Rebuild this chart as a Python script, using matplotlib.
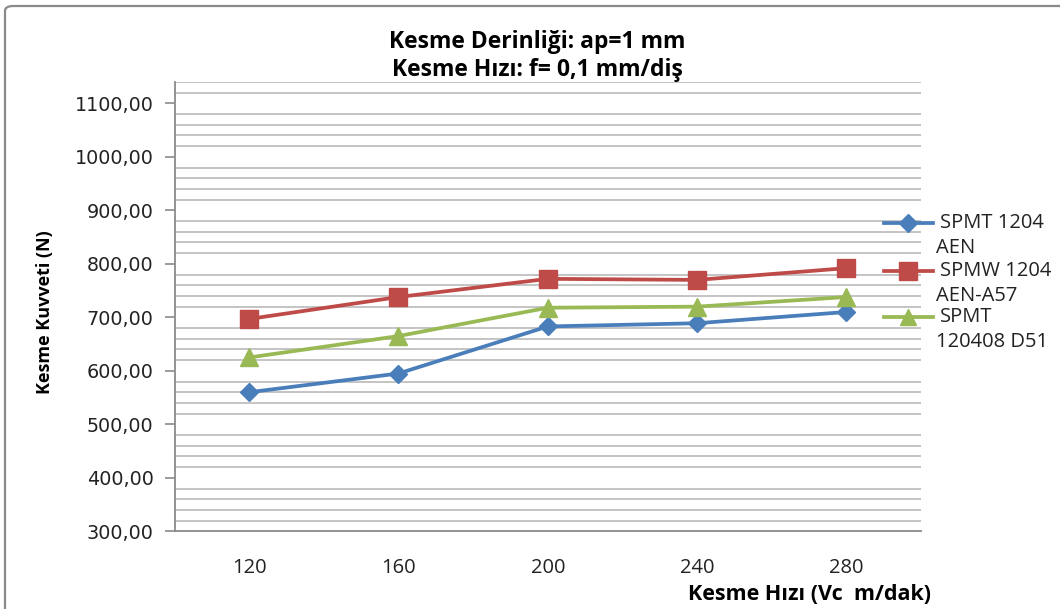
import matplotlib
matplotlib.use("Agg")
import matplotlib.pyplot as plt
from matplotlib.lines import Line2D
from matplotlib.patches import FancyBboxPatch
import numpy as np

# Cutting speed categories (Vc, m/dak)
speeds = ["120", "160", "200", "240", "280"]

# Cutting force (N) for each insert
spmt_1204_aen = [560, 595, 683, 689, 710]
spmw_1204_aen_a57 = [697, 738, 772, 770, 792]
spmt_120408_d51 = [625, 665, 718, 720, 738]

series_labels = ["SPMT 1204\nAEN", "SPMW 1204\nAEN-A57", "SPMT\n120408 D51"]
y_tick_values = [300, 400, 500, 600, 700, 800, 900, 1000, 1100]

blue = "#4A7EBB"
red = "#BE4B48"
green = "#98B954"

W, H = 1060, 609
fig = plt.figure(figsize=(W / 100, H / 100), dpi=100)
fig.patch.set_facecolor("white")

def fx(px):
    return px / W

def fy(py):
    return 1 - py / H

# chart-area frame
frame = FancyBboxPatch((fx(5), fy(640)), fx(1100) - fx(5), fy(6) - fy(640),
                       boxstyle="round,pad=0,rounding_size=0.008",
                       transform=fig.transFigure, facecolor="none",
                       edgecolor="#8a8a8a", linewidth=1.6, zorder=0)
fig.add_artist(frame)

ax = fig.add_axes([fx(174.5), fy(531.3), fx(921) - fx(174.5), fy(82) - fy(531.3)])
x = np.arange(len(speeds))

ax.plot(x, spmt_1204_aen, color=blue, lw=2.7, marker="D", ms=9.5,
        markeredgecolor=blue, markerfacecolor=blue, zorder=4, clip_on=False)
ax.plot(x, spmw_1204_aen_a57, color=red, lw=2.7, marker="s", ms=13,
        markeredgecolor=red, markerfacecolor=red, zorder=4, clip_on=False)
ax.plot(x, spmt_120408_d51, color=green, lw=2.7, marker="^", ms=13,
        markeredgecolor=green, markerfacecolor=green, zorder=4, clip_on=False)

ax.set_xlim(-0.5, len(speeds) - 0.5)
ax.set_ylim(300, 1140)

ax.set_yticks(y_tick_values)
ax.set_yticklabels([f"{v:.2f}".replace(".", ",") for v in y_tick_values],
                   fontsize=13.8, family="DejaVu Sans", color="#222222")
minor_vals = [v for v in range(320, 1141, 20) if v % 100 != 0]
ax.set_yticks(minor_vals, minor=True)
ax.tick_params(axis="y", which="major", length=7, width=1.2, color="#8a8a8a", pad=8)
ax.tick_params(axis="y", which="minor", length=0)
ax.grid(True, which="minor", axis="y", color="#c4c4c4", lw=1.4)
ax.grid(False, which="major")
ax.set_axisbelow(True)

ax.set_xticks(x)
ax.set_xticklabels(speeds, fontsize=14.5, family="Open Sans", color="#222222")
ax.tick_params(axis="x", length=0, pad=19)

for side in ["top", "right"]:
    ax.spines[side].set_visible(False)
for side in ["left", "bottom"]:
    ax.spines[side].set_color("#8a8a8a")
    ax.spines[side].set_linewidth(1.3)

# titles and axis labels
fig.text(fx(537), fy(42), "Kesme Derinliği: ap=1 mm", ha="center", va="center",
         fontsize=16.5, fontweight="bold", family="Open Sans")
fig.text(fx(537), fy(70), "Kesme Hızı: f= 0,1 mm/diş", ha="center", va="center",
         fontsize=16.5, fontweight="bold", family="Open Sans")
fig.text(fx(45), fy(312), "Kesme Kuvveti (N)", ha="center", va="center",
         rotation=90, fontsize=13, fontweight="bold", family="Open Sans")
fig.text(fx(810), fy(595), "Kesme Hızı (Vc  m/dak)", ha="center", va="center",
         fontsize=15.5, fontweight="bold", family="Open Sans")

# legend
legend_rows = [(blue, "D", 9, 223), (red, "s", 13, 271), (green, "^", 12, 317)]
for (col, mk, ms, py), label in zip(legend_rows, series_labels):
    h = Line2D([fx(884), fx(908), fx(933)], [fy(py)] * 3, transform=fig.transFigure,
               color=col, lw=2.7, marker=mk, ms=ms, markevery=[1],
               markerfacecolor=col, markeredgecolor=col)
    fig.add_artist(h)
    first, second = label.split("\n")
    fig.text(fx(940), fy(py), first, ha="left", va="center", fontsize=14.5,
             family="Open Sans", color="#222222")
    fig.text(fx(936), fy(py + 25), second, ha="left", va="center", fontsize=14.5,
             family="Open Sans", color="#222222")

fig.savefig("out.png", dpi=100)
